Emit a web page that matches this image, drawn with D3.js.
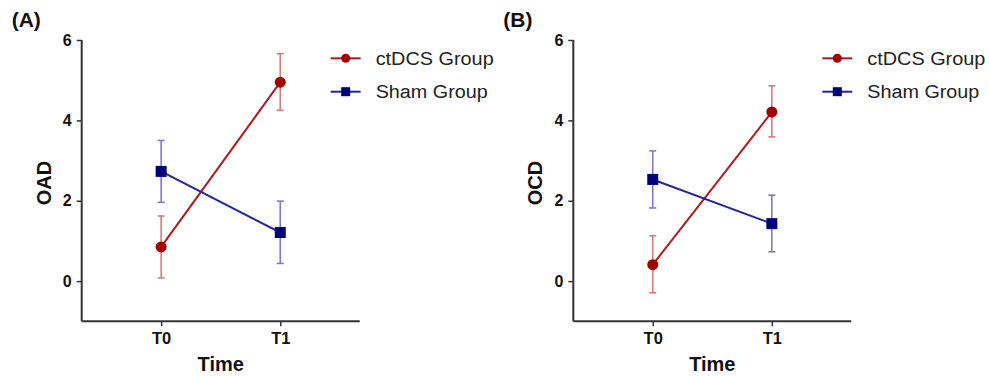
<!DOCTYPE html>
<html><head><meta charset="utf-8">
<script src="https://cdn.jsdelivr.net/npm/d3@7"></script>
<style>body{margin:0;background:#fff;} svg{display:block;font-family:Arial,"Liberation Sans",sans-serif;}</style>
</head><body><svg id="c" width="989" height="376"></svg>
<script>
const times = ["T0", "T1"];
const groups = ["ctDCS Group", "Sham Group"];
const yTicks = [0, 2, 4, 6];
const panelLabels = ["(A)", "(B)"];
const yTitles = ["OAD", "OCD"];
// panel A
const oadCtdcsMean = [0.85, 4.95];
const oadCtdcsLow = [0.08, 4.25];
const oadCtdcsHigh = [1.62, 5.66];
const oadShamMean = [2.73, 1.21];
const oadShamLow = [1.96, 0.44];
const oadShamHigh = [3.50, 1.99];
// panel B
const ocdCtdcsMean = [0.41, 4.21];
const ocdCtdcsLow = [-0.29, 3.59];
const ocdCtdcsHigh = [1.13, 4.86];
const ocdShamMean = [2.53, 1.43];
const ocdShamLow = [1.82, 0.73];
const ocdShamHigh = [3.24, 2.14];

const panels = [
  {x0: 81.7, label: panelLabels[0], title: yTitles[0], series: [
    {mean: oadCtdcsMean, low: oadCtdcsLow, high: oadCtdcsHigh},
    {mean: oadShamMean, low: oadShamLow, high: oadShamHigh}]},
  {x0: 573.3, label: panelLabels[1], title: yTitles[1], series: [
    {mean: ocdCtdcsMean, low: ocdCtdcsLow, high: ocdCtdcsHigh},
    {mean: ocdShamMean, low: ocdShamLow, high: ocdShamHigh}]}
];
const styles = [
  {line: "#b3191c", err: "#d97b7b", mark: "#a50000", shape: "circle"},
  {line: "#2424a0", err: "#7b7bcc", mark: "#00007a", shape: "square"}
];

const svg = d3.select("#c");
const y = d3.scaleLinear().domain([-1, 6]).range([321.3, 40]);

panels.forEach((p) => {
  const W = 278;
  const x = d3.scalePoint().domain(times).range([p.x0, p.x0 + W]).padding(0.667);
  const g = svg.append("g");
  const ya = g.append("g").attr("transform", `translate(${p.x0},0)`)
    .call(d3.axisLeft(y).tickValues(yTicks).tickSize(5).tickPadding(5).tickFormat(d3.format("d")));
  const xa = g.append("g").attr("transform", `translate(0,${y(-1)})`)
    .call(d3.axisBottom(x).tickSize(5).tickPadding(6));
  [ya, xa].forEach(a => {
    a.attr("font-size", null).attr("font-family", null);
    a.select(".domain").attr("stroke", "#333").attr("stroke-width", 2);
    a.selectAll(".tick line").attr("stroke", "#333").attr("stroke-width", 1.5);
    a.selectAll("text").attr("fill", "#111").style("font-size", "16px").style("font-weight", "bold");
  });
  ya.select(".domain").attr("d", `M0,${y(6)}V${y(-1)}`);
  xa.select(".domain").attr("d", `M${p.x0},0H${p.x0 + W}`);
  xa.selectAll("text").style("font-size", "16.5px");

  g.append("text").attr("x", p.x0 - 70).attr("y", 27).style("font-size", "21px")
    .style("font-weight", "bold").attr("fill", "#111").text(p.label);
  g.append("text").attr("transform", `translate(${p.x0 - 31},${183}) rotate(-90)`)
    .attr("text-anchor", "middle").style("font-size", "20px").style("font-weight", "bold")
    .attr("fill", "#111").text(p.title);
  g.append("text").attr("x", p.x0 + W / 2).attr("y", 371).attr("text-anchor", "middle")
    .style("font-size", "20px").style("font-weight", "bold").attr("fill", "#111").text("Time");

  p.series.forEach((s, i) => {
    const st = styles[i];
    const pts = times.map((t, k) => ({t, m: s.mean[k], lo: s.low[k], hi: s.high[k]}));
    const eg = g.append("g").attr("stroke", st.err).attr("stroke-width", 1.6);
    pts.forEach(d => {
      eg.append("line").attr("x1", x(d.t)).attr("x2", x(d.t)).attr("y1", y(d.lo)).attr("y2", y(d.hi));
      eg.append("line").attr("x1", x(d.t) - 3.5).attr("x2", x(d.t) + 3.5).attr("y1", y(d.lo)).attr("y2", y(d.lo));
      eg.append("line").attr("x1", x(d.t) - 3.5).attr("x2", x(d.t) + 3.5).attr("y1", y(d.hi)).attr("y2", y(d.hi));
    });
    g.append("path").datum(pts).attr("fill", "none").attr("stroke", st.line).attr("stroke-width", 2)
      .attr("d", d3.line().x(d => x(d.t)).y(d => y(d.m)));
    pts.forEach(d => {
      if (st.shape === "circle") {
        g.append("circle").attr("cx", x(d.t)).attr("cy", y(d.m)).attr("r", 5.5).attr("fill", st.mark);
      } else {
        g.append("rect").attr("x", x(d.t) - 5.5).attr("y", y(d.m) - 5.5).attr("width", 11).attr("height", 11).attr("fill", st.mark);
      }
    });
  });

  const lx = p.x0 + 249;
  groups.forEach((name, i) => {
    const st = styles[i];
    const ly = 58.3 + i * 33.4;
    g.append("line").attr("x1", lx).attr("x2", lx + 30).attr("y1", ly).attr("y2", ly)
      .attr("stroke", st.line).attr("stroke-width", 2);
    if (st.shape === "circle") g.append("circle").attr("cx", lx + 15).attr("cy", ly).attr("r", 4.5).attr("fill", st.mark);
    else g.append("rect").attr("x", lx + 10.5).attr("y", ly - 4.5).attr("width", 9).attr("height", 9).attr("fill", st.mark);
    g.append("text").attr("x", lx + 45).attr("y", ly + 6.5).style("font-size", "18px").attr("fill", "#222")
      .attr("textLength", i === 0 ? 118 : 112).attr("lengthAdjust", "spacingAndGlyphs").text(name);
  });
});
</script></body></html>
